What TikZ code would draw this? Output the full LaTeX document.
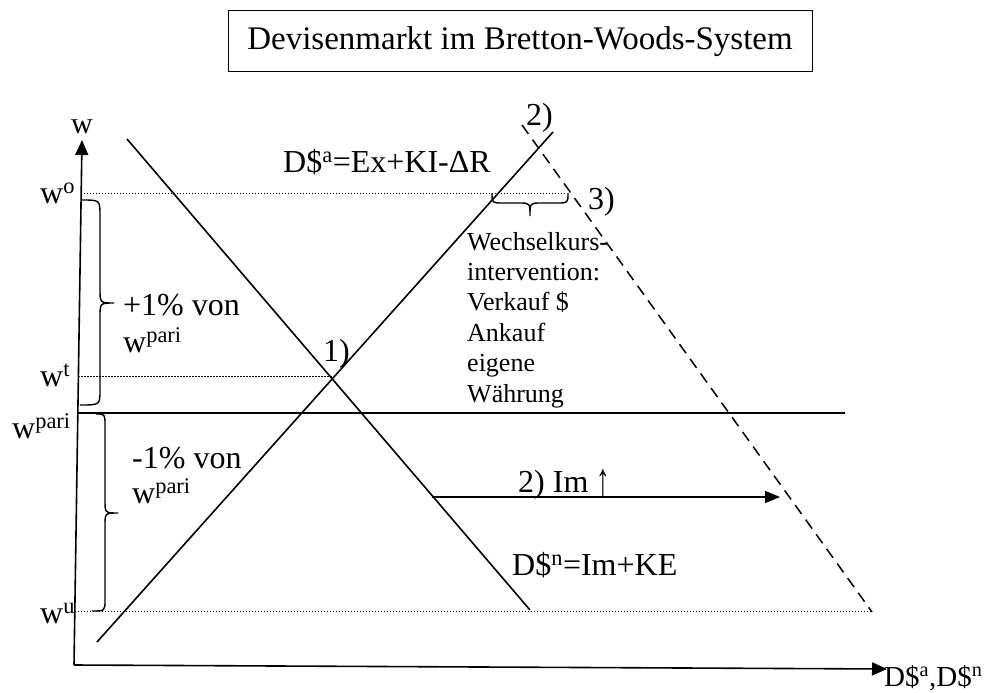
\documentclass[tikz,border=0pt]{standalone}
\usepackage{fontspec}
\setmainfont{Liberation Serif}
\usetikzlibrary{arrows.meta}
\tikzset{
  big/.style={font=\fontsize{32}{36}\selectfont, inner sep=0pt, anchor=base west, align=left},
  small/.style={font=\fontsize{26}{30.4}\selectfont, inner sep=0pt, anchor=base west, align=left},
  axisline/.style={line width=1.6pt, -{Triangle[length=15pt,width=13pt]}},
  curveline/.style={line width=1.6pt},
  shiftline/.style={line width=1.5pt, dash pattern=on 11pt off 7pt},
  guide/.style={line width=1pt, dash pattern=on 1.2pt off 1.8pt},
  bracestyle/.style={line width=1.4pt},
  shiftarrow/.style={line width=1.5pt, -{Triangle[length=15pt,width=12pt]}}
}
\begin{document}
\begin{tikzpicture}[x=1pt,y=-1pt]
\useasboundingbox (0,0) rectangle (993,693);

% title
\node[draw, line width=1pt, minimum width=584pt, minimum height=61pt, inner sep=0pt,
      font=\fontsize{33}{38}\selectfont] (title) at (520,41.5) {Devisenmarkt im Bretton-Woods-System};

% axes
\coordinate (O) at (74,665);
\coordinate (Ytop) at (82,140);
\coordinate (Xend) at (887,669);
\draw[axisline] (O) -- (Ytop);
\draw[axisline] (O) -- (Xend);
\node[font=\fontsize{30}{36}\selectfont, inner sep=0pt, anchor=base] (wlab) at (82,133) {w};
\node[big, font=\fontsize{29}{34}\selectfont] (xlab) at (884,686) {D\$\textsuperscript{a},D\$\textsuperscript{n}};

% levels on the axis
\coordinate (ao) at (81.2,193);
\coordinate (at) at (78.4,376);
\coordinate (ap) at (77.8,413);
\coordinate (au) at (74.8,611);

% right ends of the horizontal lines
\coordinate (eo) at (567,193);
\coordinate (E1) at (332,376);
\coordinate (ep) at (845,413);
\coordinate (eu) at (870,611);

\draw[guide] (ao) -- (eo);
\draw[guide] (at) -- (E1);
\draw[guide] (au) -- (eu);
\draw[curveline] (ap) -- (ep);

% supply, demand, shifted demand
\coordinate (Sa) at (97,642);
\coordinate (Sb) at (553,132);
\coordinate (Da) at (127,139);
\coordinate (Db) at (530,610);
\coordinate (Na) at (522,125);
\coordinate (Nb) at (872,612);
\draw[curveline] (Sa) -- (Sb);
\draw[curveline] (Da) -- (Db);
\draw[shiftline] (Na) -- (Nb);

% shift arrow
\coordinate (Aa) at (432,497);
\coordinate (Ab) at (780,497);
\draw[shiftarrow] (Aa) -- (Ab);
\node[big] (imlab) at (518,492) {2) Im \raisebox{-0.12em}{\scalebox{0.85}[1.45]{\char"2191}}};

% axis labels
\node[big] (wo) at (40,203) {w\textsuperscript{o}};
\node[big] (wt) at (40,386) {w\textsuperscript{t}};
\node[big] (wp) at (12,438) {w\textsuperscript{pari}};
\node[big] (wu) at (40,623) {w\textsuperscript{u}};

% braces
\draw[bracestyle] (82,200) .. controls (100,200) .. (100,216) -- (100,289)
   .. controls (100,303) .. (114,303) .. controls (100,303) .. (100,317) -- (100,390)
   .. controls (100,405) .. (80,405);
\draw[bracestyle] (96,414) .. controls (105,414) .. (105,425) -- (105,500)
   .. controls (105,513) .. (118,513) .. controls (105,513) .. (105,526) -- (105,600)
   .. controls (105,611) .. (92,611);
\draw[bracestyle] (492,193) .. controls (492,203) .. (503,203) -- (519,203)
   .. controls (530,203) .. (530,216) .. controls (530,203) .. (541,203) -- (557,203)
   .. controls (568,203) .. (568,193);

% labels
\node[big] (plus) at (123,315) {+1\% von};
\node[big] (plusw) at (123,352) {w\textsuperscript{pari}};
\node[big] (minus) at (132,468) {-1\% von};
\node[big] (minusw) at (132,503) {w\textsuperscript{pari}};
\node[big] (one) at (323,361) {1)};
\node[big] (two) at (526,125) {2)};
\node[big] (three) at (588,209) {3)};
\node[big] (sup) at (283,172) {D\$\textsuperscript{a}=Ex+KI-\char"0394 R};
\node[big] (dem) at (512,575) {D\$\textsuperscript{n}=Im+KE};
\node[small] (interv) at (467,402) {Wechselkurs-\\intervention:\\Verkauf \$\\Ankauf\\eigene\\Währung};
\end{tikzpicture}
\end{document}
